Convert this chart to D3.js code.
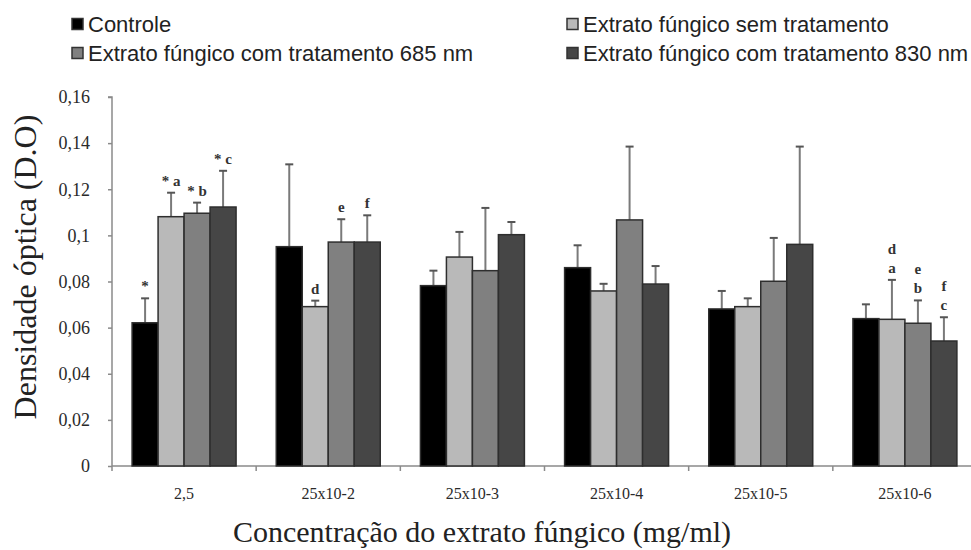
<!DOCTYPE html>
<html>
<head>
<meta charset="utf-8">
<script src="https://cdn.jsdelivr.net/npm/d3@7"></script>
<style>
  body { margin: 0; background: #fff; }
  svg { display: block; }
</style>
</head>
<body>
<svg id="chart" width="971" height="550"></svg>
<script>
// ---- data ----
const categories = ["2,5", "25x10-2", "25x10-3", "25x10-4", "25x10-5", "25x10-6"];
const seriesNames = [
  "Controle",
  "Extrato fúngico sem tratamento",
  "Extrato fúngico com tratamento 685 nm",
  "Extrato fúngico com tratamento 830 nm"
];
const controle   = [0.0621, 0.0951, 0.0782, 0.0860, 0.0681, 0.0639];
const semTrat    = [0.1081, 0.0691, 0.0906, 0.0759, 0.0691, 0.0636];
const trat685    = [0.1096, 0.0971, 0.0847, 0.1067, 0.0801, 0.0619];
const trat830    = [0.1123, 0.0971, 0.1003, 0.0789, 0.0961, 0.0542];
const controleErr = [0.0106, 0.0357, 0.0065, 0.0097, 0.0078, 0.0062];
const semTratErr  = [0.0104, 0.0026, 0.0109, 0.0031, 0.0036, 0.0171];
const trat685Err  = [0.0046, 0.0099, 0.0272, 0.0318, 0.0188, 0.0099];
const trat830Err  = [0.0157, 0.0116, 0.0055, 0.0078, 0.0424, 0.0103];
// significance labels (lines listed top to bottom)
const controleLbl = [["*"], [], [], [], [], []];
const semTratLbl  = [["* a"], ["d"], [], [], [], ["d", "a"]];
const trat685Lbl  = [["* b"], ["e"], [], [], [], ["e", "b"]];
const trat830Lbl  = [["* c"], ["f"], [], [], [], ["f", "c"]];
const yTicks = [0, 0.02, 0.04, 0.06, 0.08, 0.1, 0.12, 0.14, 0.16];
const colors = ["#000000", "#b9b9b9", "#808080", "#464646"];
const yTitle = "Densidade óptica (D.O)";
const xTitle = "Concentração do extrato fúngico (mg/ml)";

const values = [controle, semTrat, trat685, trat830];
const errs = [controleErr, semTratErr, trat685Err, trat830Err];
const lbls = [controleLbl, semTratLbl, trat685Lbl, trat830Lbl];

const svg = d3.select("#chart");
const x0 = 112, x1 = 977, yBottom = 466, yTop = 97;

const x = d3.scaleBand().domain(categories).range([x0, x1]).paddingInner(0).paddingOuter(0);
const xs = d3.scaleBand().domain(d3.range(4)).range([0, x.bandwidth()]).paddingInner(0).paddingOuter(0.773);
const y = d3.scaleLinear().domain([0, 0.16]).range([yBottom, yTop]);

const axisColor = "#8a8a8a";
const serif = "'Liberation Serif', 'Times New Roman', serif";

// y axis
const yAxis = svg.append("g").attr("transform", `translate(${x0},0)`)
  .call(d3.axisLeft(y).tickValues(yTicks).tickSize(4).tickPadding(18)
    .tickFormat(d => d === 0 ? "0" : String(+d.toFixed(2)).replace(".", ",")));
yAxis.select(".domain").attr("stroke", axisColor).attr("stroke-width", 1.5).attr("d", `M-4,${yTop}H0V${yBottom}H0`);
yAxis.selectAll(".tick line").attr("stroke", axisColor).attr("stroke-width", 1.5);
yAxis.selectAll(".tick text").attr("font-family", serif).attr("font-size", 18).attr("fill", "#2a2a2a");

// x axis
const xAxis = svg.append("g").attr("transform", `translate(0,${yBottom})`)
  .call(d3.axisBottom(x).tickSize(0).tickPadding(22));
xAxis.select(".domain").attr("stroke", axisColor).attr("stroke-width", 1.5).attr("d", `M${x0},0H${x1}`);
xAxis.selectAll(".tick text").attr("font-family", serif).attr("font-size", 16).attr("fill", "#2a2a2a");
// boundary ticks
xAxis.selectAll("line.bt").data(categories.map(c => x(c)).concat([x1]))
  .join("line").attr("class", "bt")
  .attr("x1", d => d).attr("x2", d => d).attr("y1", 0).attr("y2", 5)
  .attr("stroke", axisColor).attr("stroke-width", 1.5);

// bars
const bw = xs.bandwidth();
values.forEach((vals, s) => {
  const g = svg.append("g");
  categories.forEach((c, i) => {
    const bx = x(c) + xs(s);
    const cx = bx + bw / 2;
    const v = vals[i], e = errs[s][i];
    // error bar
    g.append("line").attr("x1", cx).attr("x2", cx).attr("y1", y(v)).attr("y2", y(v + e))
      .attr("stroke", "#7a7a7a").attr("stroke-width", 2);
    g.append("line").attr("x1", cx - 4).attr("x2", cx + 4).attr("y1", y(v + e)).attr("y2", y(v + e))
      .attr("stroke", "#555").attr("stroke-width", 2);
    g.append("rect").attr("x", bx).attr("y", y(v)).attr("width", bw).attr("height", yBottom - y(v))
      .attr("fill", colors[s]).attr("stroke", "#2e2e2e").attr("stroke-width", 1.5);
    const lines = lbls[s][i];
    lines.forEach((t, k) => {
      g.append("text").attr("x", cx).attr("y", y(v + e) - 7 - (lines.length - 1 - k) * 19)
        .attr("text-anchor", "middle").attr("font-family", serif).attr("font-weight", "bold")
        .attr("font-size", 15).attr("fill", "#333").text(t);
    });
  });
});

// axis titles
svg.append("text").attr("transform", `translate(36,267) rotate(-90)`)
  .attr("text-anchor", "middle").attr("font-family", serif).attr("font-size", 32).attr("fill", "#222")
  .text(yTitle);
svg.append("text").attr("x", 482).attr("y", 542)
  .attr("text-anchor", "middle").attr("font-family", serif).attr("font-size", 30).attr("fill", "#222")
  .text(xTitle);

// legend
const legPos = [[72, 24], [567, 24], [72, 53], [567, 53]];
const leg = svg.append("g");
seriesNames.forEach((n, i) => {
  const [lx, ly] = legPos[i];
  leg.append("rect").attr("x", lx).attr("y", ly - 5.5).attr("width", 11).attr("height", 11)
    .attr("fill", colors[i]).attr("stroke", "#333").attr("stroke-width", 1.5);
  leg.append("text").attr("x", lx + 16).attr("y", ly + 8)
    .attr("font-family", "'Liberation Sans', Arial, sans-serif")
    .attr("font-size", 22).attr("fill", "#222").text(n);
});
</script>
</body>
</html>
